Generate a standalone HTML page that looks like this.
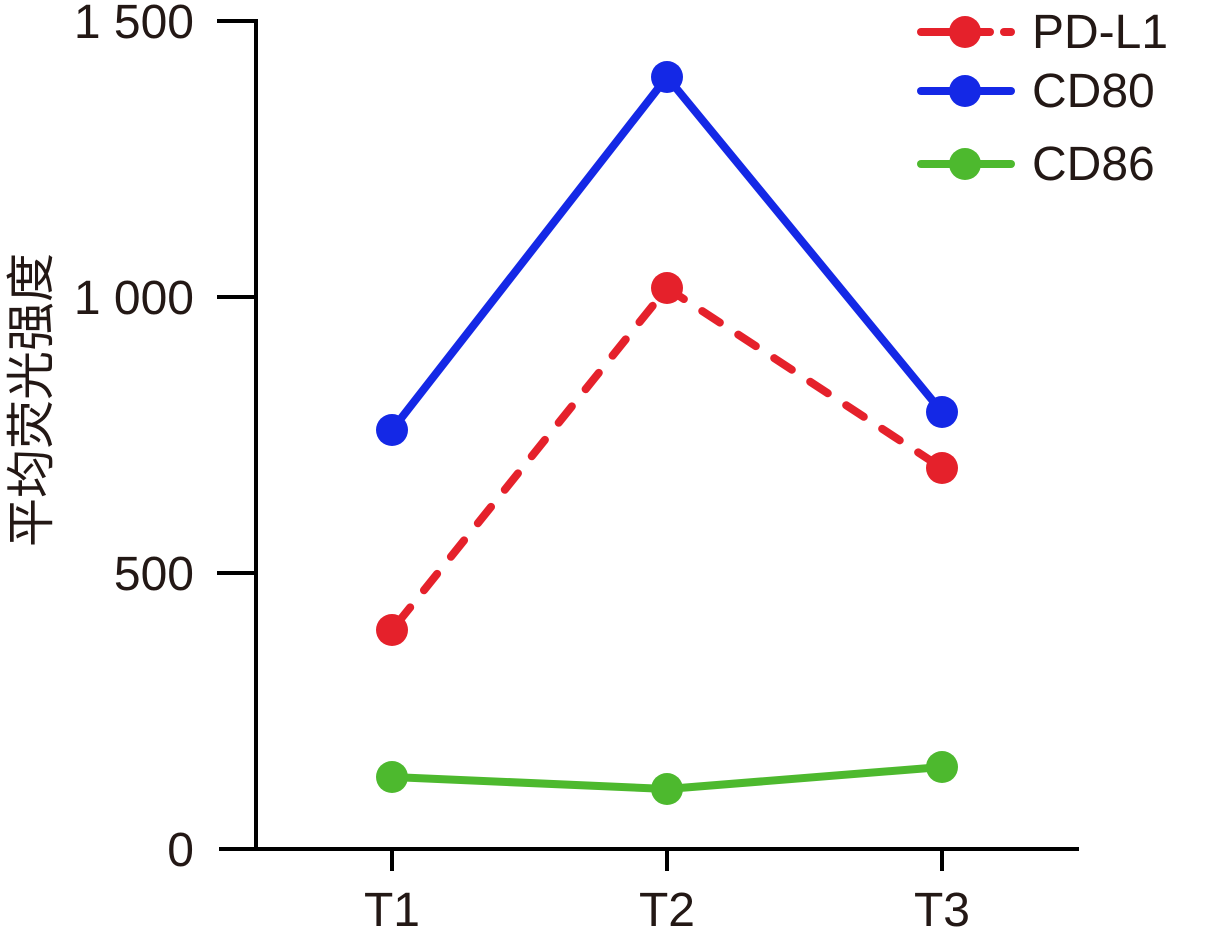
<!DOCTYPE html>
<html>
<head>
<meta charset="utf-8">
<style>
  html, body { margin: 0; padding: 0; background: #ffffff; }
  svg { display: block; }
  text { font-family: "Liberation Sans", "Noto Sans CJK SC", sans-serif; fill: #231815; }
</style>
</head>
<body>
<svg width="1215" height="930" viewBox="0 0 1215 930" xmlns="http://www.w3.org/2000/svg">
  <!-- axes -->
  <g stroke="#000" stroke-width="4" fill="none">
    <line x1="256" y1="19" x2="256" y2="851"/>
    <line x1="219" y1="849" x2="1079" y2="849"/>
    <!-- y ticks -->
    <line x1="217" y1="21" x2="256" y2="21"/>
    <line x1="217" y1="297" x2="256" y2="297"/>
    <line x1="217" y1="573" x2="256" y2="573"/>
    <!-- x ticks -->
    <line x1="392" y1="849" x2="392" y2="871"/>
    <line x1="667" y1="849" x2="667" y2="871"/>
    <line x1="942" y1="849" x2="942" y2="871"/>
  </g>

  <!-- y tick labels -->
  <g font-size="48" text-anchor="end">
    <text x="194" y="38">1 500</text>
    <text x="194" y="314">1 000</text>
    <text x="194" y="590">500</text>
    <text x="194" y="866">0</text>
  </g>

  <!-- x tick labels -->
  <g font-size="48" text-anchor="middle">
    <text x="392" y="926">T1</text>
    <text x="667" y="926">T2</text>
    <text x="942" y="926">T3</text>
  </g>

  <!-- y axis title -->
  <text transform="translate(48,400) rotate(-90)" font-size="49" text-anchor="middle" style="font-family:'Noto Sans CJK SC','WenQuanYi Zen Hei',sans-serif;font-weight:400;">平均荧光强度</text>

  <!-- CD80 (blue) -->
  <polyline points="392,430 667,77 942,412" fill="none" stroke="#1428E6" stroke-width="8" stroke-linejoin="round" stroke-linecap="round"/>
  <g fill="#1428E6">
    <circle cx="392" cy="430" r="16"/>
    <circle cx="667" cy="77" r="16"/>
    <circle cx="942" cy="412" r="16"/>
  </g>

  <!-- PD-L1 (red, dashed) -->
  <polyline points="392,630 667,288 942,468" fill="none" stroke="#E5212B" stroke-width="8" stroke-dasharray="21 22" stroke-dashoffset="-8" stroke-linecap="round" stroke-linejoin="round"/>
  <g fill="#E5212B">
    <circle cx="392" cy="630" r="16"/>
    <circle cx="667" cy="288" r="16"/>
    <circle cx="942" cy="468" r="16"/>
  </g>

  <!-- CD86 (green) -->
  <polyline points="392,777 667,789 942,767" fill="none" stroke="#4DB92E" stroke-width="8" stroke-linejoin="round" stroke-linecap="round"/>
  <g fill="#4DB92E">
    <circle cx="392" cy="777" r="16"/>
    <circle cx="667" cy="789" r="16"/>
    <circle cx="942" cy="767" r="16"/>
  </g>

  <!-- legend -->
  <g stroke-width="8" stroke-linecap="round">
    <line x1="921" y1="32" x2="990" y2="32" stroke="#E5212B"/>
    <line x1="1004" y1="32" x2="1011" y2="32" stroke="#E5212B"/>
    <line x1="921" y1="91" x2="1011" y2="91" stroke="#1428E6"/>
    <line x1="921" y1="164" x2="1011" y2="164" stroke="#4DB92E"/>
  </g>
  <circle cx="965" cy="32" r="16" fill="#E5212B"/>
  <circle cx="965" cy="91" r="16" fill="#1428E6"/>
  <circle cx="965" cy="164" r="16" fill="#4DB92E"/>
  <g font-size="48">
    <text x="1032" y="48">PD-L1</text>
    <text x="1032" y="107">CD80</text>
    <text x="1032" y="180">CD86</text>
  </g>
</svg>
</body>
</html>
